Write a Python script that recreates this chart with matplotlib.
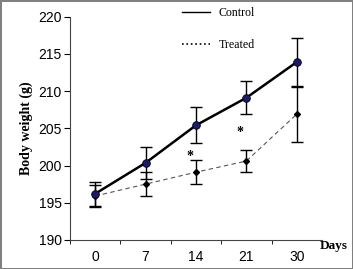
import numpy as np
import matplotlib.pyplot as plt
from matplotlib.lines import Line2D

# Data
days = ['0', '7', '14', '21', '30']
control = [196.2, 200.35, 205.4, 209.1, 213.9]
control_err = [1.6, 2.1, 2.4, 2.2, 3.2]
treated = [195.9, 197.5, 199.1, 200.6, 206.9]
treated_err = [1.5, 1.6, 1.6, 1.5, 3.7]
star_days = [2, 3]
star_values = [201.2, 204.5]

x = np.arange(len(days))

fig = plt.figure(figsize=(3.53, 2.69), dpi=100)
fig.patch.set_edgecolor('#808080')
fig.patch.set_linewidth(2)
ax = fig.add_axes([0.198, 0.108, 0.714, 0.830])

# Treated: thin gray dashed line, small black diamonds
ax.plot(x, treated, color='#555555', lw=0.8, dashes=(4, 3), zorder=2)
ax.errorbar(x, treated, yerr=treated_err, fmt='D', color='black',
            markersize=3, capsize=4.3, elinewidth=1, capthick=1, zorder=3)

# Control: thick black line, navy circles
ax.errorbar(x, control, yerr=control_err, fmt='none', ecolor='black',
            capsize=4.3, elinewidth=1, capthick=1, zorder=4)
ax.plot(x, control, '-', color='black', lw=1.8, zorder=5)
ax.plot(x, control, 'o', color='#1a1a70', markeredgecolor='black',
        markeredgewidth=0.6, markersize=5.5, zorder=6)

# significance marks
for d, v in zip(star_days, star_values):
    ax.text(d - 0.12, v, '*', ha='center', va='center', fontsize=10,
            family='Liberation Serif', fontweight='bold')

ax.set_xlim(-0.5, 4.5)
ax.set_ylim(190, 220)
ax.set_yticks(np.arange(190, 221, 5))
ax.set_xticks(x)
ax.set_xticklabels(days)
ax.set_xticks(np.arange(-0.5, 4.6, 1), minor=True)
ax.tick_params(axis='x', which='major', length=0, pad=7)
ax.tick_params(axis='x', which='minor', length=3, direction='out')
ax.tick_params(axis='y', length=4, direction='out', pad=2)
for lbl in ax.get_xticklabels() + ax.get_yticklabels():
    lbl.set_family('Liberation Sans')
    lbl.set_fontsize(10)

ax.spines['top'].set_visible(False)
ax.spines['right'].set_visible(False)
ax.spines['left'].set_color('#444444')
ax.spines['bottom'].set_color('#444444')

ax.set_ylabel('Body weight (g)', family='Liberation Serif', fontweight='bold',
              fontsize=10, labelpad=4)
fig.text(320 / 353, 1 - 246 / 269, 'Days', family='Liberation Serif',
         fontweight='bold', fontsize=9.5, ha='left', va='center')

handles = [Line2D([], [], color='black', lw=1),
           Line2D([], [], color='black', lw=1.2, ls=':')]
leg = fig.legend(handles, ['Control', 'Treated'], loc='upper left',
                 bbox_to_anchor=(0.515, 0.975), frameon=False, borderpad=0,
                 borderaxespad=0, handlelength=2.4, handletextpad=0.7,
                 labelspacing=1.7, prop={'family': 'Liberation Serif', 'size': 8.6})

fig.savefig('out.png', dpi=100)
